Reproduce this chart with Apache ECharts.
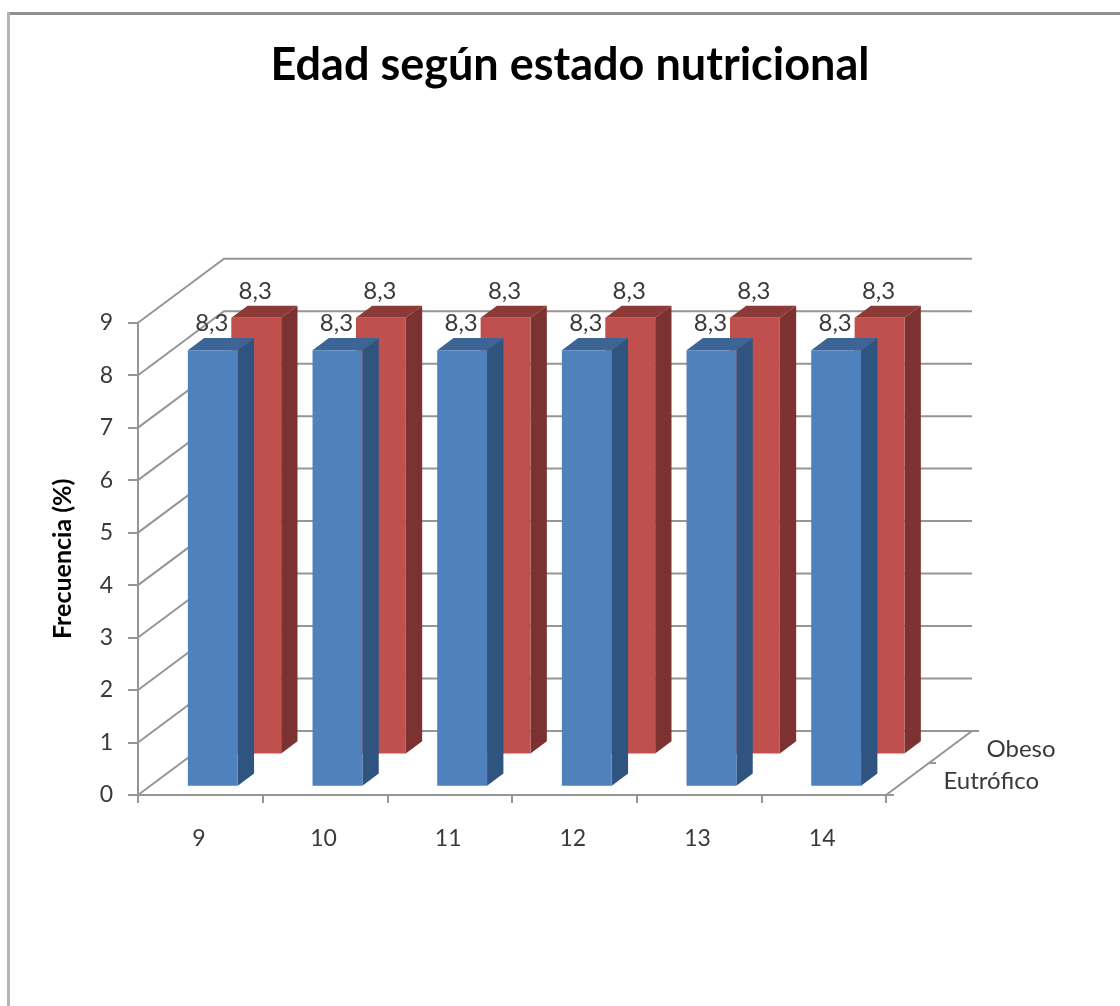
<!DOCTYPE html>
<html>
<head>
<meta charset="utf-8">
<style>html,body{margin:0;padding:0;background:#fff}#chart{width:1120px;height:1006px}</style>
<script src="https://cdn.jsdelivr.net/npm/echarts@6/dist/echarts.min.js"></script>
</head>
<body>
<div id="chart"></div>
<script>
const edades = ['9', '10', '11', '12', '13', '14'];
const eutrofico = [8.3, 8.3, 8.3, 8.3, 8.3, 8.3];
const obeso = [8.3, 8.3, 8.3, 8.3, 8.3, 8.3];
const marcasFrecuencia = [0, 1, 2, 3, 4, 5, 6, 7, 8, 9];
const filas = ['Eutrófico', 'Obeso'];

const FONT = 'Lato';
const LINE = '#969696';
// Pixel shift from the front plane to the back wall of the box
const DEPTH_X = 86;
const DEPTH_Y = -64;
const BAR_DEPTH = 0.19;

// Oblique box column: front face, top and side, with its value above
function prism(front, side, top, rowStart) {
  return function (params, api) {
    const base = api.coord([api.value(0), 0]);
    const peak = api.coord([api.value(0), api.value(1)]);
    const w = api.size([1, 0])[0] * 0.4;
    const sx = DEPTH_X * rowStart, sy = DEPTH_Y * rowStart;
    const dx = DEPTH_X * BAR_DEPTH, dy = DEPTH_Y * BAR_DEPTH;
    const l = base[0] - w / 2 + sx, r = l + w;
    const b = base[1] + sy, t = peak[1] + sy;
    const poly = (points, fill) => ({
      type: 'polygon', shape: { points }, style: { fill, stroke: null }
    });
    return {
      type: 'group',
      children: [
        poly([[r, t], [r + dx, t + dy], [r + dx, b + dy], [r, b]], side),
        poly([[l, t], [l + dx, t + dy], [r + dx, t + dy], [r, t]], top),
        poly([[l, t], [r, t], [r, b], [l, b]], front),
        {
          type: 'text', z2: 10,
          style: {
            x: (l + r) / 2 - 1, y: t - 27,
            text: String(api.value(1)).replace('.', ','),
            font: '24px ' + FONT, fill: '#3a3a3a',
            align: 'center', verticalAlign: 'middle'
          }
        }
      ]
    };
  };
}

// Back wall, side wall and floor lines for one value tick
function walls(params, api) {
  const box = params.coordSys;
  const y = api.coord([0, api.value(1)])[1];
  const x0 = box.x, x1 = box.x + box.width;
  const seg = (pts) => ({
    type: 'polyline', shape: { points: pts },
    style: { stroke: LINE, lineWidth: 2, fill: null }
  });
  const children = [
    seg([[x0, y], [x0 + DEPTH_X, y + DEPTH_Y], [x1 + DEPTH_X, y + DEPTH_Y]])
  ];
  if (api.value(1) === 0) {
    children.push(seg([[x0, y], [x1, y], [x1 + DEPTH_X, y + DEPTH_Y], [x1 + DEPTH_X + 7, y + DEPTH_Y]]));
    children.push(seg([[x1, y], [x1 + 8, y]]));
    children.push(seg([[x1 + DEPTH_X / 2, y + DEPTH_Y / 2], [x1 + DEPTH_X / 2 + 7, y + DEPTH_Y / 2]]));
    filas.forEach((name, i) => {
      const f = 0.25 + i * 0.5;
      children.push({
        type: 'text',
        style: {
          x: x1 + DEPTH_X * f + 36, y: y + DEPTH_Y * f + 2,
          text: name, font: '24px ' + FONT, fill: '#3a3a3a',
          align: 'left', verticalAlign: 'middle'
        }
      });
    });
  }
  return { type: 'group', children };
}

const chart = echarts.init(document.getElementById('chart'), null, { renderer: 'canvas' });
chart.setOption({
  animation: false,
  backgroundColor: '#ffffff',
  title: {
    text: 'Edad según estado nutricional',
    left: 565, top: 38, textAlign: 'center',
    textStyle: { fontFamily: FONT, fontSize: 45, fontWeight: 'bold', color: '#000000' }
  },
  grid: { left: 138, top: 322.7, width: 748, height: 472.3, containLabel: false },
  xAxis: {
    type: 'category',
    data: edades,
    axisLine: { lineStyle: { color: LINE, width: 2 } },
    axisTick: { show: true, length: 8, lineStyle: { color: LINE, width: 2 } },
    axisLabel: { fontFamily: FONT, fontSize: 23, color: '#3a3a3a', margin: 32, padding: [0, 3, 0, 0] },
    splitLine: { show: false }
  },
  yAxis: {
    type: 'value',
    min: 0, max: 9, interval: 1,
    name: 'Frecuencia (%)',
    nameLocation: 'middle',
    nameGap: 63,
    nameTextStyle: { fontFamily: FONT, fontSize: 25, fontWeight: 'bold', color: '#000000' },
    axisLine: { show: true, lineStyle: { color: LINE, width: 2 } },
    axisTick: { show: true, length: 10, lineStyle: { color: LINE, width: 2 } },
    axisLabel: { fontFamily: FONT, fontSize: 23, color: '#3a3a3a', margin: 25 },
    splitLine: { show: false }
  },
  graphic: [
    // Chart area frame: top and left edges
    { type: 'rect', shape: { x: 7, y: 12, width: 1113, height: 3 }, style: { fill: '#8f8f8f' } },
    { type: 'rect', shape: { x: 7, y: 12, width: 3, height: 994 }, style: { fill: '#b4b4b4' } }
  ],
  series: [
    {
      type: 'custom', name: 'Paredes', z: 1,
      renderItem: walls,
      data: marcasFrecuencia.map((v) => [0, v]),
      encode: { x: 0, y: 1 }, silent: true
    },
    {
      type: 'custom', name: filas[1], z: 2,
      renderItem: prism('#c0504d', '#7b3230', '#8c3a38', 0.65),
      data: obeso.map((v, i) => [i, v]),
      encode: { x: 0, y: 1 }
    },
    {
      type: 'custom', name: filas[0], z: 3,
      renderItem: prism('#4f81bd', '#305480', '#3c6595', 0.145),
      data: eutrofico.map((v, i) => [i, v]),
      encode: { x: 0, y: 1 }
    }
  ]
});
</script>
</body>
</html>
